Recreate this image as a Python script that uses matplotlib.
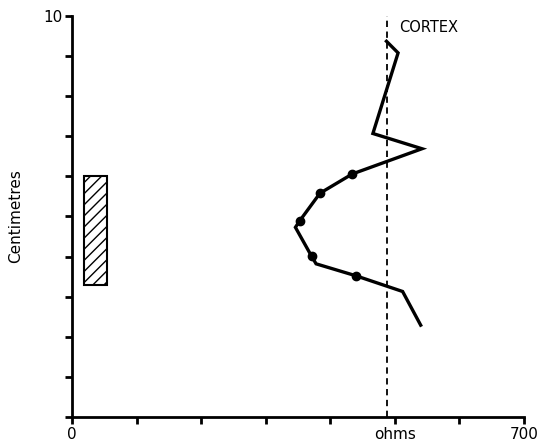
import matplotlib
matplotlib.use("Agg")
import matplotlib.pyplot as plt

# Resistance profile (ohms vs depth in cm)
profile_ohms = [487, 505, 466, 542, 434, 384, 353, 346, 371, 378, 440, 512, 540]
profile_cm = [9.37, 9.08, 7.07, 6.69, 6.06, 5.58, 4.90, 4.73, 4.01, 3.82, 3.52, 3.13, 2.29]
# Measured points shown with dots
marked_ohms = [434, 384, 353, 371, 440]
marked_cm = [6.06, 5.58, 4.90, 4.01, 3.52]
# Cortex reference line
cortex_ohms = 488
# Hatched region
bar_left = 18.5
bar_right = 54
bar_bottom = 3.3
bar_top = 6.0

x_ticks = [0, 100, 200, 300, 400, 500, 600, 700]
x_ticklabels = ["0", "", "", "", "", "ohms", "", "700"]
y_ticks = [0, 1, 2, 3, 4, 5, 6, 7, 8, 9, 10]
y_ticklabels = ["", "", "", "", "", "", "", "", "", "", "10"]

plt.rcParams["font.family"] = ["DejaVu Sans"]
plt.rcParams["hatch.linewidth"] = 1.0

fig = plt.figure(figsize=(5.51, 4.44), dpi=100)
ax = fig.add_axes([72 / 551, 27 / 444, (524 - 72) / 551, (417 - 16) / 444])

ax.bar([(bar_left + bar_right) / 2], [bar_top - bar_bottom], width=bar_right - bar_left,
       bottom=bar_bottom, facecolor="white", edgecolor="black", hatch="///",
       linewidth=1.5, zorder=2)

ax.plot([cortex_ohms, cortex_ohms], [0, 10], linestyle=(0, (3.5, 2.5)), color="black",
        linewidth=1.3, zorder=3)
ax.plot(profile_ohms, profile_cm, color="black", linewidth=2.4, solid_joinstyle="miter",
        zorder=4)
ax.plot(marked_ohms, marked_cm, linestyle="none", marker="o", markersize=6,
        color="black", zorder=5)
ax.text(507, 9.72, "CORTEX", fontsize=10.5, ha="left", va="center")

ax.set_xlim(0, 700)
ax.set_ylim(0, 10)
ax.set_xticks(x_ticks)
ax.set_xticklabels(x_ticklabels, fontsize=11)
ax.set_yticks(y_ticks)
ax.set_yticklabels(y_ticklabels, fontsize=11)
ax.tick_params(axis="both", direction="out", length=5, width=2, pad=2)
ax.spines["top"].set_visible(False)
ax.spines["right"].set_visible(False)
ax.spines["left"].set_linewidth(2)
ax.spines["bottom"].set_linewidth(2)
ax.set_ylabel("Centimetres", fontsize=11, labelpad=14)

fig.savefig("out.png", dpi=100)
